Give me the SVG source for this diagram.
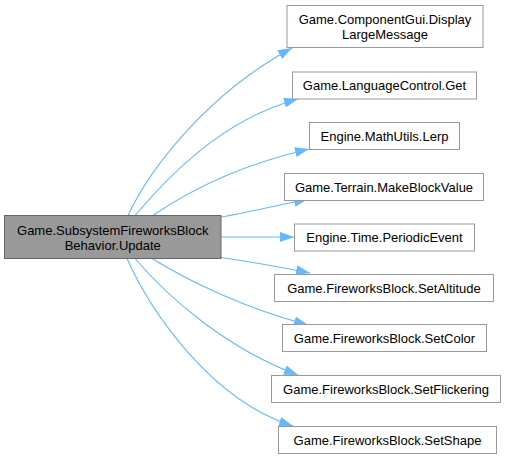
<svg xmlns="http://www.w3.org/2000/svg" width="505" height="459" viewBox="0 0 505 459">
<style>
.n rect{fill:#ffffff;stroke:#999999;stroke-width:1}
.m rect{fill:#999999;stroke:#666666;stroke-width:1}
text{font-family:"Liberation Sans",Arial,sans-serif;font-size:13px;fill:#000000;text-anchor:middle}
.e path{fill:none;stroke:#63b8ff;stroke-width:1.1}
</style>
<defs>
<marker id="ah" viewBox="0 0 14 10" refX="14" refY="5" markerWidth="14" markerHeight="10" markerUnits="userSpaceOnUse" orient="auto">
<path d="M0,0 L14,5 L0,10 z" fill="#63b8ff"/>
</marker>
</defs>
<g id="edges" class="e">
<path marker-end="url(#ah)" d="M128,215.5 C148,172 205,95 292,48"/>
<path marker-end="url(#ah)" d="M135,215.5 C165,180 220,120 298,99"/>
<path marker-end="url(#ah)" d="M153,215.5 C190,190 240,165 309,149"/>
<path marker-end="url(#ah)" d="M221,217 C245,213 275,206 308,199"/>
<path marker-end="url(#ah)" d="M221,237 L294,237"/>
<path marker-end="url(#ah)" d="M221,257.5 C245,261 280,267 310,273"/>
<path marker-end="url(#ah)" d="M152,258.5 C190,282 245,308 308,325"/>
<path marker-end="url(#ah)" d="M135,258.5 C170,300 230,350 298,375"/>
<path marker-end="url(#ah)" d="M127,258.5 C150,310 210,400 293,426"/>
</g>
<g id="main" class="m">
<rect x="4.5" y="215.5" width="216.5" height="43"/>
<text x="112.75" y="234.5">Game.SubsystemFireworksBlock</text>
<text x="112.75" y="249.5">Behavior.Update</text>
</g>
<g id="n1" class="n">
<rect x="287" y="5.5" width="196" height="42"/>
<text x="385" y="23.5">Game.ComponentGui.Display</text>
<text x="385" y="38.5">LargeMessage</text>
</g>
<g id="n2" class="n">
<rect x="292.5" y="72" width="184" height="27"/>
<text x="384.5" y="90">Game.LanguageControl.Get</text>
</g>
<g id="n3" class="n">
<rect x="309.5" y="122.5" width="150" height="27"/>
<text x="384.5" y="140.5">Engine.MathUtils.Lerp</text>
</g>
<g id="n4" class="n">
<rect x="284.5" y="173.5" width="199" height="27"/>
<text x="384" y="191.5">Game.Terrain.MakeBlockValue</text>
</g>
<g id="n5" class="n">
<rect x="294.5" y="224" width="180" height="27"/>
<text x="384.5" y="242">Engine.Time.PeriodicEvent</text>
</g>
<g id="n6" class="n">
<rect x="274.5" y="274.5" width="219" height="27"/>
<text x="384" y="292.5">Game.FireworksBlock.SetAltitude</text>
</g>
<g id="n7" class="n">
<rect x="282.5" y="324.5" width="204" height="27"/>
<text x="384.5" y="342.5">Game.FireworksBlock.SetColor</text>
</g>
<g id="n8" class="n">
<rect x="271.5" y="375.5" width="229" height="27"/>
<text x="386" y="393.5">Game.FireworksBlock.SetFlickering</text>
</g>
<g id="n9" class="n">
<rect x="278.5" y="426.5" width="218" height="27"/>
<text x="387.5" y="444.5">Game.FireworksBlock.SetShape</text>
</g>
</svg>
